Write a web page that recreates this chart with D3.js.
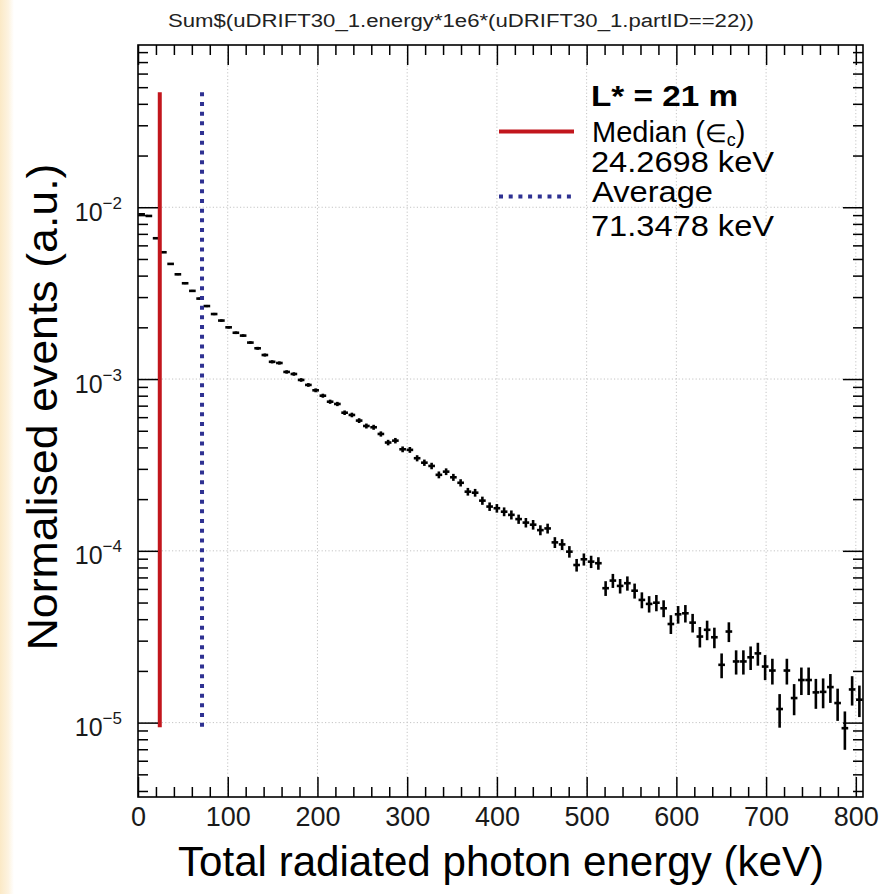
<!DOCTYPE html>
<html>
<head>
<meta charset="utf-8">
<script src="https://cdn.jsdelivr.net/npm/d3@7"></script>
<style>
  html, body { margin: 0; padding: 0; background: #ffffff; }
  svg { display: block; }
  text { font-family: "Liberation Sans", Arial, Helvetica, sans-serif; }
</style>
</head>
<body>
<svg id="chart" width="879" height="894"></svg>
<script>
// ---- histogram: total radiated photon energy, 100 bins over 0–808 keV ----
const xRange = [0, 808];
const nBins = 100;
const binValues = [
  9.1e-3, 8.9e-3, 6.6e-3, 5.47e-3, 4.68e-3, 4.07e-3, 3.61e-3, 3.26e-3, 2.94e-3, 2.66e-3,
  2.39e-3, 2.19e-3, 2.00e-3, 1.86e-3, 1.79e-3, 1.63e-3, 1.51e-3, 1.38e-3, 1.26e-3, 1.24e-3,
  1.10e-3, 1.07e-3, 9.88e-4, 9.24e-4, 8.6e-4, 8.0e-4, 7.38e-4, 7.16e-4, 6.37e-4, 6.18e-4,
  5.73e-4, 5.33e-4, 5.24e-4, 4.79e-4, 4.27e-4, 4.38e-4, 3.90e-4, 3.87e-4, 3.46e-4, 3.26e-4,
  3.12e-4, 2.77e-4, 2.89e-4, 2.68e-4, 2.49e-4, 2.21e-4, 2.18e-4, 1.96e-4, 1.81e-4, 1.77e-4,
  1.69e-4, 1.62e-4, 1.53e-4, 1.46e-4, 1.42e-4, 1.32e-4, 1.35e-4, 1.12e-4, 1.09e-4, 9.89e-5,
  8.27e-5, 8.93e-5, 8.65e-5, 8.47e-5, 6.06e-5, 6.71e-5, 6.25e-5, 6.48e-5, 5.86e-5, 5.18e-5,
  4.91e-5, 4.99e-5, 4.63e-5, 3.75e-5, 4.27e-5, 4.33e-5, 3.82e-5, 3.17e-5, 3.47e-5, 3.14e-5,
  2.17e-5, 3.39e-5, 2.27e-5, 2.27e-5, 2.40e-5, 2.53e-5, 2.12e-5, 2.01e-5, 1.20e-5, 2.01e-5,
  1.39e-5, 1.77e-5, 1.77e-5, 1.50e-5, 1.51e-5, 1.61e-5, 1.30e-5, 9.28e-6, 1.56e-5, 1.36e-5
];
// effective number of entries used for the Poisson error bars
const nEntries = 1.7e6;

// ---- reference energies ----
const markerLines = [
  { key: "median", value: 24.2698, color: "#c2161d", dash: null },
  { key: "average", value: 71.3478, color: "#2e3192", dash: "4,5.7" }
];
const markerSpan = [9.4e-6, 0.0467];

// ---- axes ----
const xMajorTicks = [0, 100, 200, 300, 400, 500, 600, 700, 800];
const yMajorTicks = [1e-5, 1e-4, 1e-3, 1e-2];
const yDomain = [3.69e-6, 0.088];

const titleText = "Sum$(uDRIFT30_1.energy*1e6*(uDRIFT30_1.partID==22))";
const xTitle = "Total radiated photon energy (keV)";
const yTitle = "Normalised events (a.u.)";
const legendHeader = "L* = 21 m";
const legendLines = ["24.2698 keV", "Average", "71.3478 keV"];

// ---- layout ----
const frame = { left: 138, right: 863, top: 45, bottom: 797 };
const svg = d3.select("#chart");

// soft cream edge on the left of the page
const defs = svg.append("defs");
const grad = defs.append("linearGradient").attr("id", "edge").attr("x1", 0).attr("x2", 1);
grad.append("stop").attr("offset", 0).attr("stop-color", "#fbe9c6");
grad.append("stop").attr("offset", 0.6).attr("stop-color", "#fdf3e0");
grad.append("stop").attr("offset", 1).attr("stop-color", "#ffffff");
svg.append("rect").attr("x", 0).attr("y", 0).attr("width", 14).attr("height", 894).attr("fill", "url(#edge)");

const x = d3.scaleLinear().domain(xRange).range([frame.left, frame.right]);
const y = d3.scaleLog().domain(yDomain).range([frame.bottom, frame.top]);

const binWidth = (xRange[1] - xRange[0]) / nBins;
const bins = binValues.map((v, i) => {
  const err = Math.sqrt(v / nEntries);
  return { x0: xRange[0] + i * binWidth, x1: xRange[0] + (i + 1) * binWidth, v, lo: v - err, hi: v + err };
});

// minor tick values
const xMinorTicks = d3.range(0, 808, 20).filter(v => v % 100 !== 0);
const yMinorTicks = [];
for (let e = -6; e <= -2; e++) {
  for (let m = 2; m <= 9; m++) {
    const v = m * Math.pow(10, e);
    if (v > yDomain[0] && v < yDomain[1]) yMinorTicks.push(v);
  }
}

// ---- grid ----
const grid = svg.append("g").attr("stroke", "#c4c4c4").attr("stroke-width", 1).attr("stroke-dasharray", "1.2,2.2");
grid.selectAll("line.gx").data(xMajorTicks.filter(v => v > 0)).join("line")
  .attr("x1", d => x(d)).attr("x2", d => x(d))
  .attr("y1", frame.top).attr("y2", frame.bottom);
grid.selectAll("line.gy").data(yMajorTicks).join("line")
  .attr("x1", frame.left).attr("x2", frame.right)
  .attr("y1", d => y(d)).attr("y2", d => y(d));

// ---- histogram points with error bars ----
const marks = svg.append("g").attr("stroke", "#000").attr("stroke-width", 2.6);
marks.selectAll("line.h").data(bins).join("line")
  .attr("x1", d => x(d.x0) + 0.3).attr("x2", d => x(d.x1) - 0.3)
  .attr("y1", d => y(d.v)).attr("y2", d => y(d.v));
marks.selectAll("line.v").data(bins).join("line")
  .attr("x1", d => x((d.x0 + d.x1) / 2)).attr("x2", d => x((d.x0 + d.x1) / 2))
  .attr("y1", d => y(d.hi)).attr("y2", d => y(d.lo));

// ---- median / average lines ----
svg.append("g").selectAll("line").data(markerLines).join("line")
  .attr("x1", d => x(d.value)).attr("x2", d => x(d.value))
  .attr("y1", y(markerSpan[1])).attr("y2", y(markerSpan[0]))
  .attr("stroke", d => d.color).attr("stroke-width", 4)
  .attr("stroke-dasharray", d => d.dash);

// ---- axes (ticks on all four sides, pointing inward) ----
function tidy(g) { g.select(".domain").remove(); g.selectAll(".tick line").attr("stroke", "#000").attr("stroke-width", 1.5); }

const bottom = svg.append("g").attr("transform", `translate(0,${frame.bottom})`)
  .call(d3.axisBottom(x).tickValues(xMajorTicks).tickSize(-20).tickPadding(10).tickFormat(d3.format("d")))
  .call(tidy);
bottom.selectAll(".tick text").attr("font-size", 27).attr("fill", "#1a1a1a")
  .attr("font-family", "'Liberation Sans', Arial, sans-serif");
svg.append("g").attr("transform", `translate(0,${frame.bottom})`)
  .call(d3.axisBottom(x).tickValues(xMinorTicks).tickSize(-10).tickFormat("")).call(tidy);
svg.append("g").attr("transform", `translate(0,${frame.top})`)
  .call(d3.axisTop(x).tickValues(xMajorTicks).tickSize(-20).tickFormat("")).call(tidy);
svg.append("g").attr("transform", `translate(0,${frame.top})`)
  .call(d3.axisTop(x).tickValues(xMinorTicks).tickSize(-10).tickFormat("")).call(tidy);

const left = svg.append("g").attr("transform", `translate(${frame.left},0)`)
  .call(d3.axisLeft(y).tickValues(yMajorTicks).tickSize(-20).tickPadding(16).tickFormat(d => "10"))
  .call(tidy);
left.selectAll(".tick text").each(function (d) {
  const t = d3.select(this);
  const exp = Math.round(Math.log10(d));
  t.text(null).attr("dy", 13).attr("font-size", 25).attr("fill", "#1a1a1a");
  t.append("tspan").text("10");
  t.append("tspan").attr("dy", -12).attr("font-size", 17).text("\u2212" + Math.abs(exp));
});
svg.append("g").attr("transform", `translate(${frame.left},0)`)
  .call(d3.axisLeft(y).tickValues(yMinorTicks).tickSize(-10).tickFormat("")).call(tidy);
svg.append("g").attr("transform", `translate(${frame.right},0)`)
  .call(d3.axisRight(y).tickValues(yMajorTicks).tickSize(-20).tickFormat("")).call(tidy);
svg.append("g").attr("transform", `translate(${frame.right},0)`)
  .call(d3.axisRight(y).tickValues(yMinorTicks).tickSize(-10).tickFormat("")).call(tidy);

// frame
svg.append("rect")
  .attr("x", frame.left).attr("y", frame.top)
  .attr("width", frame.right - frame.left).attr("height", frame.bottom - frame.top)
  .attr("fill", "none").attr("stroke", "#000").attr("stroke-width", 1.6);

// ---- titles ----
svg.append("text").attr("x", 461).attr("y", 27).attr("text-anchor", "middle")
  .attr("font-size", 18).attr("fill", "#222")
  .attr("textLength", 586).attr("lengthAdjust", "spacingAndGlyphs")
  .text(titleText);

svg.append("text").attr("x", 501).attr("y", 876).attr("text-anchor", "middle")
  .attr("font-size", 42).attr("fill", "#000")
  .attr("textLength", 646).attr("lengthAdjust", "spacingAndGlyphs")
  .text(xTitle);

svg.append("text").attr("transform", "translate(57,407) rotate(-90)").attr("text-anchor", "middle")
  .attr("font-size", 42).attr("fill", "#000")
  .attr("textLength", 487).attr("lengthAdjust", "spacingAndGlyphs")
  .text(yTitle);

// ---- legend ----
const lg = svg.append("g");
lg.append("text").attr("x", 591).attr("y", 105.5).attr("font-size", 29).attr("font-weight", "bold")
  .attr("textLength", 147).attr("lengthAdjust", "spacingAndGlyphs")
  .text(legendHeader);
lg.selectAll("line").data(markerLines).join("line")
  .attr("x1", 499).attr("x2", 574)
  .attr("y1", (d, i) => i === 0 ? 131.5 : 196.5).attr("y2", (d, i) => i === 0 ? 131.5 : 196.5)
  .attr("stroke", d => d.color).attr("stroke-width", 4)
  .attr("stroke-dasharray", d => d.dash);
const med = lg.append("text").attr("x", 592).attr("y", 141.5).attr("font-size", 29);
med.append("tspan").text("Median (");
med.append("tspan").attr("font-size", 25).text("\u2208");
med.append("tspan").attr("font-size", 18).attr("dy", 4).text("c");
med.append("tspan").attr("dy", -4).text(")");
const legendRows = [
  { text: legendLines[0], y: 171.5, x: 591, w: 183 },
  { text: legendLines[1], y: 201.5, x: 592, w: 121 },
  { text: legendLines[2], y: 235.5, x: 591, w: 183 }
];
lg.selectAll("text.row").data(legendRows).join("text").attr("class", "row")
  .attr("x", d => d.x).attr("y", d => d.y).attr("font-size", 29)
  .attr("textLength", d => d.w).attr("lengthAdjust", "spacingAndGlyphs")
  .text(d => d.text);
</script>
</body>
</html>
